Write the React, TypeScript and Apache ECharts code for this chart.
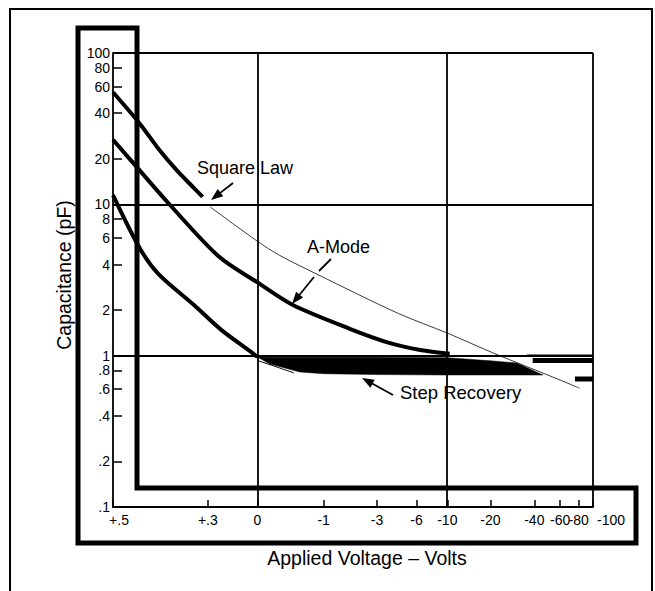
import React, { useEffect, useRef } from "react";
import * as echarts from "echarts";

// ---- axis scales -------------------------------------------------------
// Horizontal axis of the original plot is logarithmic in (phi - V)
const PHI = 0.56;
const toU = (v: number) => Math.log10(PHI - v);
// Vertical axis: log10 of capacitance, shifted so .1 pF -> 0
const toY = (c: number) => Math.log10(c) + 1;

// ---- ticks ---------------------------------------------------------------
const xTickVolts = [0.5, 0.3, 0, -1, -3, -6, -10, -20, -40, -60, -80, -100];
const xTickLabels = ["+.5", "+.3", "0", "-1", "-3", "-6", "-10", "-20", "-40", "-60", "-80", "-100"];
const xGridVolts = [0, -10, -100];

const yTickValues = [100, 80, 60, 40, 20, 10, 8, 6, 4, 2, 1, 0.8, 0.6, 0.4, 0.2, 0.1];
const yTickLabels = ["100", "80", "60", "40", "20", "10", "8", "6", "4", "2", "1", ".8", ".6", ".4", ".2", ".1"];
const yGridValues = [100, 10, 1];

// ---- curves (volts, pF) -------------------------------------------------
const squareLawVolts = [0.5, 0.47, 0.44, 0.4, 0.35, 0.32];
const squareLawPF = [55, 34.5, 23.6, 16.9, 12.8, 11.2];

const squareLawIdealVolts = [0.29, 0, -0.23, -0.85, -4.4, -10, -21, -60, -72, -81];
const squareLawIdealPF = [9.6, 5.7, 4.6, 3.45, 1.9, 1.41, 1.04, 0.69, 0.64, 0.61];

const aModeVolts = [0.5, 0.47, 0.415, 0.25, 0, -0.41, -1.8, -3.8, -6.4, -10.4];
const aModePF = [26.7, 16.9, 9.9, 4.5, 3.05, 2.16, 1.5, 1.21, 1.09, 1.03];

const aModeTailVolts = [-39, -100];
const aModeTailPF = [0.93, 0.93];
const aModeTailThinVolts = [-35.6, -100];
const aModeTailThinPF = [1.01, 1.01];

const stepVolts = [0.5, 0.47, 0.44, 0.35, 0.24, 0.04, 0];
const stepPF = [11.5, 5.2, 3.5, 2.16, 1.48, 1.04, 0.98];

const stepBandVolts = [0, -0.12, -0.52, -1, -3, -10, -20, -30.4, -45.8];
const stepUpperPF = [0.98, 0.975, 0.975, 0.975, 0.975, 0.97, 0.925, 0.895, 0.745];
const stepLowerPF = [0.98, 0.88, 0.78, 0.76, 0.75, 0.745, 0.745, 0.745, 0.745];

const stepIdealVolts = [0, -0.2, -0.42];
const stepIdealPF = [0.93, 0.84, 0.77];

const stepTailVolts = [-75.5, -100];
const stepTailPF = [0.7, 0.7];

const FONT = "'Liberation Sans', Arial, Helvetica, sans-serif";

function arrow(x1: number, y1: number, x2: number, y2: number, L = 12, W = 4.5) {
  const dx = x2 - x1, dy = y2 - y1;
  const len = Math.hypot(dx, dy);
  const ux = dx / len, uy = dy / len;
  const nx = -uy, ny = ux;
  const bx = x2 - ux * L, by = y2 - uy * L;
  return [
    { type: "line", z: 120, shape: { x1, y1, x2: bx + ux * 2, y2: by + uy * 2 }, style: { stroke: "#000", lineWidth: 1.8 } },
    {
      type: "polygon", z: 120,
      shape: { points: [[x2, y2], [bx + nx * W, by + ny * W], [bx - nx * W, by - ny * W]] },
      style: { fill: "#000" },
    },
  ];
}

function seg(x1: number, y1: number, x2: number, y2: number, w = 1.8) {
  return { type: "line", z: 120, shape: { x1, y1, x2, y2 }, style: { stroke: "#000", lineWidth: w } };
}

function label(text: string, x: number, y: number, size = 18, align = "left", rotation = 0) {
  return {
    type: "text", z: 120, x, y, rotation,
    style: {
      text, font: `${size}px ${FONT}`, fill: "#000",
      textAlign: align, textVerticalAlign: "middle", align, verticalAlign: "middle",
    },
  };
}

export default function App() {
  const ref = useRef<HTMLDivElement>(null);

  useEffect(() => {
    const chart = echarts.init(ref.current!, null, { renderer: "svg" });
    const pts = (vs: number[], cs: number[]) => vs.map((v, i) => [toU(v), toY(cs[i])]);
    const xTickU = xTickVolts.map(toU);
    const yTickY = yTickValues.map(toY);

    const xFmt = (val: number) => {
      const i = xTickU.findIndex((u) => Math.abs(u - val) < 1e-6);
      if (i < 0) return "";
      if (i === 0) return `{a|${xTickLabels[i]}}`;
      if (i === xTickLabels.length - 1) return `{b|${xTickLabels[i]}}`;
      return xTickLabels[i];
    };
    const yFmt = (val: number) => {
      const i = yTickY.findIndex((u) => Math.abs(u - val) < 1e-6);
      return i < 0 ? "" : yTickLabels[i];
    };

    const line = (name: string, data: number[][], width: number, smooth: number | boolean = 0.3, z = 3) => ({
      type: "line", name, data, symbol: "none", showSymbol: false, smooth, silent: true, z,
      lineStyle: { color: "#000", width, cap: "butt" },
    });

    const option: any = {
      animation: false,
      backgroundColor: "#fff",
      grid: { left: 113, top: 53, right: 62, bottom: 84, containLabel: false, outerBoundsMode: "none" },
      xAxis: {
        type: "value",
        min: toU(0.5),
        max: toU(-100),
        axisLine: { show: true, onZero: false, lineStyle: { color: "#000", width: 1.8 } },
        axisTick: { show: true, inside: true, length: 7, customValues: xTickU, lineStyle: { color: "#000", width: 1.5 } },
        axisLabel: {
          customValues: xTickU, formatter: xFmt, color: "#000", fontSize: 14, fontFamily: FONT, margin: 6,
          showMinLabel: true, showMaxLabel: true, hideOverlap: false,
          rich: {
            a: { padding: [0, 0, 0, 12], fontSize: 14, fontFamily: FONT, color: "#000" },
            b: { padding: [0, 0, 0, 36], fontSize: 14, fontFamily: FONT, color: "#000" },
          },
        },
        splitLine: { show: false },
      },
      yAxis: {
        type: "value",
        min: 0,
        max: 3,
        axisLine: { show: true, onZero: false, lineStyle: { color: "#000", width: 1.8 } },
        axisTick: { show: true, inside: true, length: 9, customValues: yTickY, lineStyle: { color: "#000", width: 1.5 } },
        axisLabel: {
          customValues: yTickY, formatter: yFmt, color: "#000", fontSize: 14, fontFamily: FONT, margin: 3,
          showMinLabel: true, showMaxLabel: true, hideOverlap: false,
        },
        splitLine: { show: false },
      },
      series: [
        {
          ...line("Square Law (ideal)", pts(squareLawIdealVolts, squareLawIdealPF), 0.9, 0.3, 2),
          lineStyle: { color: "#222", width: 0.9 },
          markLine: {
            silent: true,
            symbol: ["none", "none"],
            label: { show: false },
            lineStyle: { color: "#000", width: 1.8, type: "solid" },
            emphasis: { disabled: true },
            data: [
              ...yGridValues.map((c) => ({ yAxis: toY(c) })),
              ...xGridVolts.map((v) => ({ xAxis: toU(v) })),
            ],
          },
        },
        line("Square Law", pts(squareLawVolts, squareLawPF), 4),
        line("A-Mode", pts(aModeVolts, aModePF), 4),
        line("A-Mode tail", pts(aModeTailVolts, aModeTailPF), 5, false),
        line("A-Mode tail edge", pts(aModeTailThinVolts, aModeTailThinPF), 1.2, false),
        line("Step Recovery", pts(stepVolts, stepPF), 4),
        line("Step Recovery ideal", pts(stepIdealVolts, stepIdealPF), 1, 0.3, 2),
        line("Step Recovery tail", pts(stepTailVolts, stepTailPF), 5, false),
        {
          type: "custom",
          name: "Step Recovery band",
          silent: true,
          z: 3,
          data: [[toU(0), toY(1)]],
          renderItem: (_params: any, api: any) => {
            const up = stepBandVolts.map((v, i) => api.coord([toU(v), toY(stepUpperPF[i])]));
            const lo = stepBandVolts.map((v, i) => api.coord([toU(v), toY(stepLowerPF[i])])).reverse();
            return {
              type: "polygon",
              shape: { points: up.concat(lo) },
              style: { fill: "#000", stroke: "#000", lineWidth: 0.5 },
            };
          },
        },
      ],
      graphic: {
        elements: [
          // outer thin frame
          {
            type: "polyline", z: 110,
            shape: { points: [[10, 591], [10, 9], [652, 9], [652, 591]] },
            style: { stroke: "#000", lineWidth: 2, fill: "none" },
          },
          // thick bracket frame
          {
            type: "polygon", z: 110,
            shape: { points: [[78, 28], [137, 28], [137, 488], [636, 488], [636, 543], [78, 543]] },
            style: { stroke: "#000", lineWidth: 5, fill: "none", lineJoin: "miter" },
          },
          label("Capacitance (pF)", 64, 275, 19.5, "center", Math.PI / 2),
          label("Applied Voltage – Volts", 367, 558, 19.5, "center"),
          label("Square Law", 197, 168, 18),
          ...arrow(233, 183, 211, 200),
          label("A-Mode", 307, 247, 18),
          seg(331, 259, 319, 271),
          ...arrow(314, 277, 292, 304),
          label("Step Recovery", 400, 392, 18.5),
          ...arrow(393, 395, 362, 378),
        ],
      },
    };

    chart.setOption(option);
    return () => chart.dispose();
  }, []);

  return (
    <div
      ref={ref}
      style={{ position: "absolute", left: 0, top: 0, width: 655, height: 591, background: "#fff" }}
    />
  );
}
